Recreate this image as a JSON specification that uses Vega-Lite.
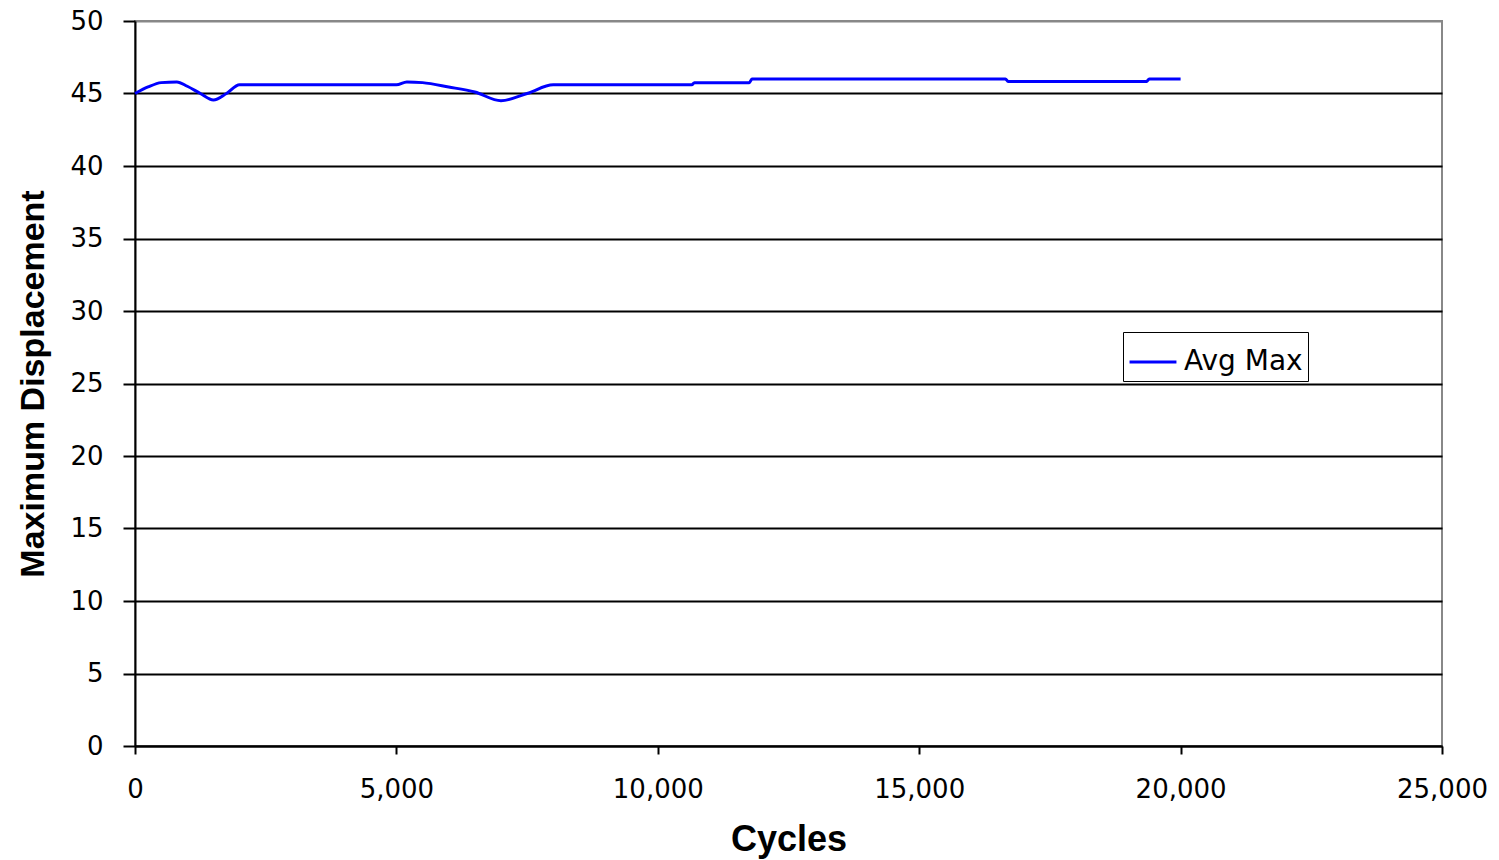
{
  "$schema": "https://vega.github.io/schema/vega-lite/v6.json",
  "autosize": "none",
  "width": 1307,
  "height": 725,
  "padding": {"left": 135, "top": 21, "right": 57, "bottom": 114},
  "background": "white",
  "config": {
    "view": {"stroke": "#888888", "strokeWidth": 2},
    "font": "DejaVu Sans"
  },
  "data": {
    "values": [
      {"cycles": 0, "disp": 45.0, "series": "Avg Max"},
      {"cycles": 250, "disp": 45.45, "series": "Avg Max"},
      {"cycles": 500, "disp": 45.75, "series": "Avg Max"},
      {"cycles": 800, "disp": 45.8, "series": "Avg Max"},
      {"cycles": 1000, "disp": 45.5, "series": "Avg Max"},
      {"cycles": 1250, "disp": 45.0, "series": "Avg Max"},
      {"cycles": 1500, "disp": 44.55, "series": "Avg Max"},
      {"cycles": 1750, "disp": 45.0, "series": "Avg Max"},
      {"cycles": 2000, "disp": 45.6, "series": "Avg Max"},
      {"cycles": 5000, "disp": 45.6, "series": "Avg Max"},
      {"cycles": 5200, "disp": 45.8, "series": "Avg Max"},
      {"cycles": 5500, "disp": 45.75, "series": "Avg Max"},
      {"cycles": 6000, "disp": 45.45, "series": "Avg Max"},
      {"cycles": 6500, "disp": 45.1, "series": "Avg Max"},
      {"cycles": 7000, "disp": 44.5, "series": "Avg Max"},
      {"cycles": 7500, "disp": 45.0, "series": "Avg Max"},
      {"cycles": 8000, "disp": 45.6, "series": "Avg Max"},
      {"cycles": 10650, "disp": 45.6, "series": "Avg Max"},
      {"cycles": 10700, "disp": 45.75, "series": "Avg Max"},
      {"cycles": 11750, "disp": 45.75, "series": "Avg Max"},
      {"cycles": 11800, "disp": 46.0, "series": "Avg Max"},
      {"cycles": 16650, "disp": 46.0, "series": "Avg Max"},
      {"cycles": 16700, "disp": 45.83, "series": "Avg Max"},
      {"cycles": 19350, "disp": 45.83, "series": "Avg Max"},
      {"cycles": 19400, "disp": 46.0, "series": "Avg Max"},
      {"cycles": 20000, "disp": 46.0, "series": "Avg Max"}
    ]
  },
  "mark": {"type": "line", "strokeWidth": 3, "interpolate": "monotone"},
  "encoding": {
    "x": {
      "field": "cycles",
      "type": "quantitative",
      "scale": {"domain": [0, 25000], "nice": false},
      "axis": {
        "title": "Cycles",
        "values": [0, 5000, 10000, 15000, 20000, 25000],
        "format": ",.0f",
        "grid": false,
        "labelFlush": false,
        "domainColor": "black",
        "domainWidth": 2,
        "tickColor": "black",
        "tickWidth": 2,
        "tickSize": 8,
        "labelFont": "DejaVu Sans",
        "labelFontSize": 26,
        "labelColor": "black",
        "labelPadding": 22,
        "titleFont": "Liberation Sans",
        "titleFontSize": 36,
        "titleFontWeight": "bold",
        "titleColor": "black",
        "titlePadding": 20
      }
    },
    "y": {
      "field": "disp",
      "type": "quantitative",
      "scale": {"domain": [0, 50], "nice": false, "zero": true},
      "axis": {
        "title": "Maximum Displacement",
        "values": [0, 5, 10, 15, 20, 25, 30, 35, 40, 45, 50],
        "grid": true,
        "labelFlush": false,
        "gridColor": {"condition": {"test": "datum.value == 50", "value": "#888888"}, "value": "black"},
        "gridWidth": 2,
        "gridOpacity": 1,
        "domainColor": "black",
        "domainWidth": 2,
        "tickColor": "black",
        "tickWidth": 2,
        "tickSize": 12,
        "labelFont": "DejaVu Sans",
        "labelFontSize": 26,
        "labelColor": "black",
        "labelPadding": 20,
        "titleFont": "Liberation Sans",
        "titleFontSize": 34,
        "titleFontWeight": "bold",
        "titleColor": "black",
        "titlePadding": 19
      }
    },
    "color": {
      "field": "series",
      "type": "nominal",
      "scale": {"range": ["#0000FF"]},
      "legend": {
        "title": null,
        "orient": "none",
        "legendX": 988,
        "legendY": 311,
        "strokeColor": "black",
        "fillColor": "white",
        "padding": 5,
        "symbolType": "stroke",
        "symbolSize": 2200,
        "symbolStrokeWidth": 3,
        "labelFont": "DejaVu Sans",
        "labelFontSize": 28,
        "labelColor": "black",
        "labelOffset": 6
      }
    }
  }
}
